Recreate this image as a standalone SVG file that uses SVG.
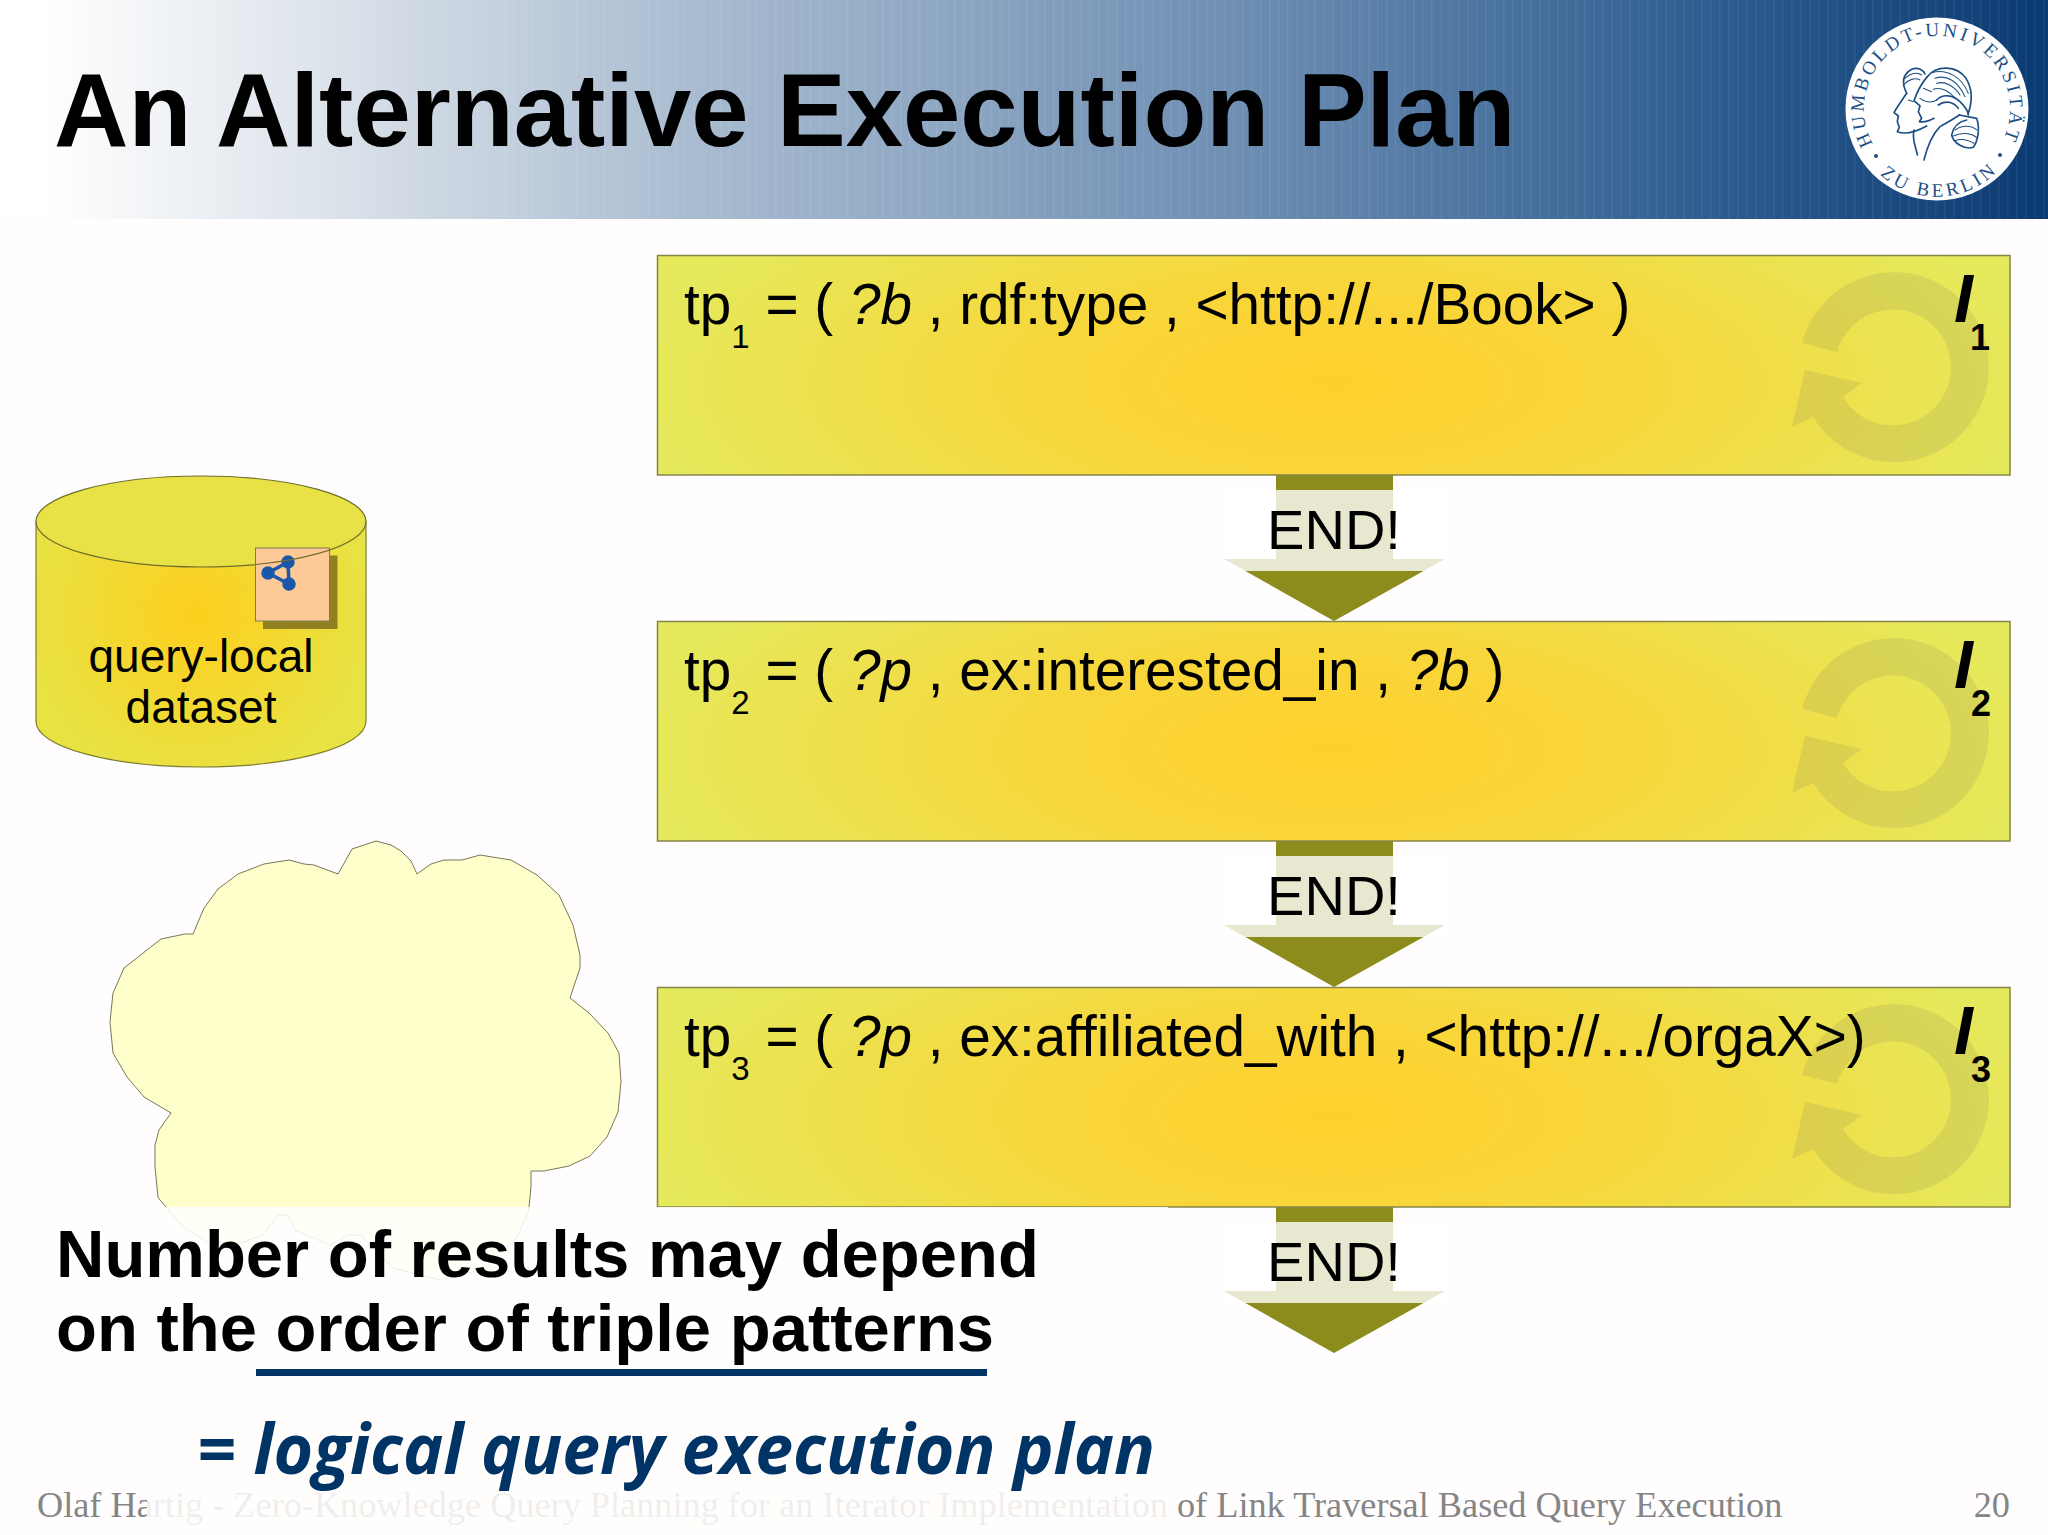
<svg xmlns="http://www.w3.org/2000/svg" xmlns:xlink="http://www.w3.org/1999/xlink" width="2048" height="1535" viewBox="0 0 2048 1535">
<style>
text{font-family:"Liberation Sans",Arial,sans-serif;fill:#000}
.tp{font-size:56.7px}
.sub{font-size:33px}
.it{font-style:italic}
.iter{font-size:68px;font-weight:700;font-style:italic}
.itersub{font-size:36px;font-weight:700;text-anchor:middle}
.box{fill:url(#boxGrad);stroke:#85854a;stroke-width:1.5}
.loop{fill:#7f7c5c;opacity:.16}
.arrow{fill:#8b8c1c}
.veil{fill:#fff;opacity:.8}
.end{font-size:56px;text-anchor:middle}
.cyl{font-size:46px;text-anchor:middle}
.bold{font-size:67px;font-weight:700}
.foot{font-family:"Liberation Serif","Times New Roman",serif;font-size:36.27px;fill:#858585}
.logot{font-family:"Liberation Serif","Times New Roman",serif;font-size:19px;fill:#1d4f85}
.ink{fill:none;stroke:#1d4f85;stroke-width:3.2;stroke-linecap:round;stroke-linejoin:round}
.ink2{fill:none;stroke:#1d4f85;stroke-width:5;stroke-linecap:round;stroke-linejoin:round}
</style>
<defs>
<linearGradient id="banner" x1="0" x2="1" y1="0" y2="0">
<stop offset=".02" stop-color="#ffffff"/><stop offset=".15" stop-color="#dfe5ec"/><stop offset=".34" stop-color="#a8bbd0"/><stop offset=".6" stop-color="#6f8fb3"/><stop offset=".83" stop-color="#2f5e90"/><stop offset="1" stop-color="#0a3a72"/>
</linearGradient>
<pattern id="stripes" width="9" height="10" patternUnits="userSpaceOnUse"><rect x="0" width="1.5" height="10" fill="#fff" opacity=".06"/></pattern>
<radialGradient id="boxGrad" cx="0" cy="0" r="1" gradientTransform="translate(.5 .58) scale(.52 1.15)">
<stop offset="0" stop-color="#ffd02c"/><stop offset=".4" stop-color="#f8d63a"/><stop offset="1" stop-color="#e5e95c"/>
</radialGradient>
<radialGradient id="cylGrad" gradientUnits="userSpaceOnUse" cx="195" cy="615" r="170">
<stop offset="0" stop-color="#fdcf1e"/><stop offset="1" stop-color="#e8e243"/>
</radialGradient>
<path id="loopIcon" d="M1802 343A95 95 0 1 1 1813 417L1792 427 1805 370 1862 383 1843 397A58 58 0 1 0 1837 352Z"/>
<path id="logoTop" d="M1873 144A73 73 0 1 1 2001 144"/>
<path id="logoBot" d="M1880 174.4A84 84 0 0 0 1994 174.4"/>
</defs>
<rect width="2048" height="1535" fill="#fffdfd"/>
<g id="banner-bar">
<rect width="2048" height="219" fill="url(#banner)"/>
<rect x="450" width="1598" height="219" fill="url(#stripes)"/>
<text x="54" y="146" font-size="103" font-weight="700">An Alternative Execution Plan</text>
</g>
<g id="logo">
<circle cx="1937" cy="109" r="91.5" fill="#fff"/>
<text class="logot"><textPath xlink:href="#logoTop" href="#logoTop" textLength="296">HUMBOLDT-UNIVERSITÄT</textPath></text>
<text class="logot"><textPath xlink:href="#logoBot" href="#logoBot" textLength="128">ZU BERLIN</textPath></text>
<circle cx="1876" cy="156" r="2" fill="#1d4f85"/><circle cx="2000" cy="155" r="2" fill="#1d4f85"/>
<g transform="translate(1840 50) scale(.3333)">
<path class="ink2" d="M262 80C240 105 228 135 222 152L240 168 235 185 245 205 238 215C255 218 270 212 282 205"/>
<path class="ink2" d="M262 80C290 45 350 45 378 85 400 120 395 160 385 190"/>
<path class="ink2" d="M200 130C190 145 175 165 162 188L175 198 172 215 178 232 172 245C190 252 220 250 260 228"/>
<path class="ink2" d="M200 130C185 100 185 75 215 58 235 50 250 60 255 72"/>
<path class="ink2" d="M222 240C215 270 228 290 232 315M252 330C262 290 280 250 300 230 325 215 345 205 358 195"/>
<path class="ink" d="M275 68C320 55 365 80 385 130M285 85C320 72 355 95 375 140M290 100C315 92 345 110 360 135M280 118C305 110 330 125 345 145M195 85C210 70 230 65 245 75M190 105C205 88 225 82 240 90"/>
<path class="ink2" d="M290 150C310 130 340 135 360 155 375 170 385 185 385 195M295 165C315 150 340 155 355 175"/>
<path class="ink2" d="M358 195L410 205C420 235 415 270 400 292 375 300 340 280 335 255 340 230 355 215 380 210"/>
<path class="ink" d="M345 240C365 225 395 225 410 240M340 258C365 245 395 250 410 262M345 272C365 265 385 270 402 280"/>
<path class="ink" d="M250 115L275 125M205 150L220 155M240 145C255 155 275 160 290 150"/>
</g>
</g>
<g id="connectors">
<g id="arrow-1">
<path class="arrow" d="M1276 475H1393V559H1445L1334 621 1224 559H1276Z"/>
<rect class="veil" x="1224" y="490" width="221" height="81"/>
<text class="end" x="1334" y="549">END!</text>
</g>
<g id="arrow-2" transform="translate(0 366)">
<path class="arrow" d="M1276 475H1393V559H1445L1334 621 1224 559H1276Z"/>
<rect class="veil" x="1224" y="490" width="221" height="81"/>
<text class="end" x="1334" y="549">END!</text>
</g>
<g id="arrow-3" transform="translate(0 732)">
<path class="arrow" d="M1276 475H1393V559H1445L1334 621 1224 559H1276Z"/>
<rect class="veil" x="1224" y="490" width="221" height="81"/>
<text class="end" x="1334" y="549">END!</text>
</g>
</g>
<g id="iterator-1">
<rect class="box" x="657.5" y="255.5" width="1352.5" height="219.5"/>
<use href="#loopIcon" class="loop"/>
<text class="tp" x="684" y="324">tp<tspan class="sub" dy="24">1</tspan><tspan dy="-24"> = ( </tspan><tspan class="it">?b</tspan> , rdf:type , &lt;http://.../Book&gt; )</text>
<text class="iter" x="1954" y="322">I</text><text class="itersub" x="1980" y="350">1</text>
</g>
<g id="iterator-2">
<rect class="box" x="657.5" y="621.5" width="1352.5" height="219.5"/>
<use href="#loopIcon" class="loop" y="366"/>
<text class="tp" x="684" y="690">tp<tspan class="sub" dy="24">2</tspan><tspan dy="-24"> = ( </tspan><tspan class="it">?p</tspan> , ex:interested_in , <tspan class="it">?b</tspan> )</text>
<text class="iter" x="1954" y="688">I</text><text class="itersub" x="1981" y="716">2</text>
</g>
<g id="iterator-3">
<rect class="box" x="657.5" y="987.5" width="1352.5" height="219.5"/>
<use href="#loopIcon" class="loop" y="732"/>
<text class="tp" x="684" y="1056">tp<tspan class="sub" dy="24">3</tspan><tspan dy="-24"> = ( </tspan><tspan class="it">?p</tspan> , ex:affiliated_with , &lt;http://.../orgaX&gt;)</text>
<text class="iter" x="1954" y="1054">I</text><text class="itersub" x="1981" y="1082">3</text>
</g>
<g id="dataset">
<path d="M36 521.5V721.5C36 746.6 110 767 201 767S366 746.6 366 721.5V521.5Z" fill="url(#cylGrad)" stroke="#7d7d30" stroke-width="1.2"/>
<ellipse cx="201" cy="521.5" rx="165" ry="45.5" fill="#e9e246"/>
<rect x="263" y="555.5" width="74.5" height="73.5" fill="#917f20"/>
<rect x="255.5" y="548" width="74" height="73" fill="#fdc996" stroke="#7d7d50" stroke-width="1"/>
<g stroke="#1c58aa" stroke-width="3.5" fill="#1856ac">
<path d="M268 573L288 562 289 584Z" fill="none"/>
<circle cx="268" cy="573" r="5"/><circle cx="288" cy="562" r="5"/><circle cx="289" cy="584" r="5"/>
</g>
<ellipse cx="201" cy="521.5" rx="165" ry="45.5" fill="none" stroke="#6e6e2c" stroke-width="1.2"/>
<text class="cyl" x="201" y="672">query-local</text>
<text class="cyl" x="201" y="723">dataset</text>
</g>
<g id="cloud">
<path fill="#ffffcc" stroke="#77775a" stroke-width="1" d="M158 1197L155 1167 155 1145 159 1130 171 1113 144 1097 127 1077 113 1053 110 1022 113 993 124 968 161 939 185 934 193 934 204 908 218 889 238 874 264 864 289 860 304 864 314 865 338 874 352 849 376 841 391 845 401 851 411 861 417 874 431 864 444 860 462 860 480 855 511 860 537 875 559 895 573 925 580 955 580 968 570 998 589 1013 608 1033 619 1053 621 1082 618 1112 607 1137 590 1156 569 1166 544 1171 531 1171 531 1187 529 1207 528 1213 517 1237 487 1268 440 1280 393 1268 367 1242 362 1235 348 1235 330 1245 295 1230 288 1215 278 1215 263 1235 240 1243 207 1242 183 1227 160 1200Z"/>
</g>
<g id="footer">
<text class="foot" x="37" y="1517">Olaf Hartig - Zero-Knowledge Query Planning for an Iterator Implementation of Link Traversal Based Query Execution</text>
<text class="foot" x="2010" y="1517" text-anchor="end">20</text>
</g>
<rect id="overlay" x="147" y="1207" width="1021" height="328" fill="#fffefd" opacity=".87"/>
<g id="conclusion">
<text class="bold" x="56" y="1277">Number of results may depend</text>
<text class="bold" x="56" y="1351">on the order of triple patterns</text>
<rect x="256" y="1369" width="731" height="7" fill="#003366"/>
<text x="197" y="1474" font-size="70" font-style="italic" font-weight="700" textLength="958" lengthAdjust="spacingAndGlyphs" style="font-family:'Open Sans','DejaVu Sans',sans-serif;fill:#003366">= logical query execution plan</text>
</g>
</svg>
